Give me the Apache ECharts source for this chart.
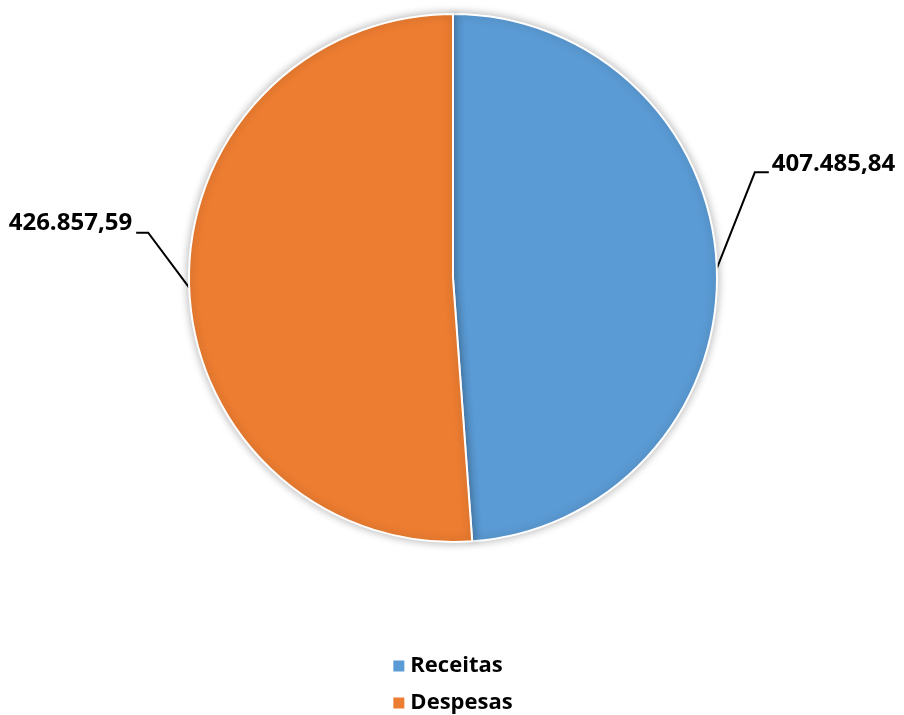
<!DOCTYPE html>
<html><head><meta charset="utf-8">
<script src="https://cdn.jsdelivr.net/npm/echarts@6/dist/echarts.min.js"></script>
<style>html,body{margin:0;padding:0;background:#fff}#c{width:904px;height:715px}</style>
</head><body><div id="c"></div>
<script>
const categories = ['Receitas', 'Despesas'];
const values = [407485.84, 426857.59];
const valueLabels = ['407.485,84', '426.857,59'];
const colors = ['#5B9BD5', '#ED7D31'];

const chart = echarts.init(document.getElementById('c'));
const font = '"Open Sans", sans-serif';
chart.setOption({
  animation: false,
  legend: {
    orient: 'vertical', left: 'center', top: 655, padding: 0,
    itemWidth: 13, itemHeight: 13, itemGap: 15,
    icon: 'rect',
    textStyle: { fontFamily: font, fontWeight: 'bold', fontSize: 22, lineHeight: 22, color: '#000' },
    data: categories
  },
  series: [{
    type: 'pie',
    center: [453, 278],
    radius: 264,
    startAngle: 90,
    clockwise: true,
    itemStyle: { borderColor: '#fff', borderWidth: 2, shadowBlur: 10, shadowColor: 'rgba(0,0,0,0.3)' },
    label: {
      show: true,
      formatter: p => valueLabels[p.dataIndex],
      fontFamily: font, fontWeight: 'bold', fontSize: 24, color: '#000'
    },
    labelLine: { show: true, lineStyle: { color: '#000', width: 2 } },
    labelLayout: function (params) {
      const a = params.labelLinePoints ? params.labelLinePoints[0] : null;
      if (!a) return {};
      if (params.dataIndex === 0) {
        const elbow = [a[0] + 38, a[1] - 96];
        const end = [elbow[0] + 14, elbow[1]];
        return { x: end[0] + 3, y: end[1] - 8, align: 'left', verticalAlign: 'middle',
                 labelLinePoints: [a, elbow, end] };
      } else {
        const elbow = [a[0] - 41, a[1] - 55];
        const end = [elbow[0] - 12, elbow[1]];
        return { x: end[0] - 4, y: end[1] - 9, align: 'right', verticalAlign: 'middle',
                 labelLinePoints: [a, elbow, end] };
      }
    },
    data: categories.map((c, i) => ({ name: c, value: values[i], itemStyle: { color: colors[i] } }))
  }]
});
</script></body></html>
